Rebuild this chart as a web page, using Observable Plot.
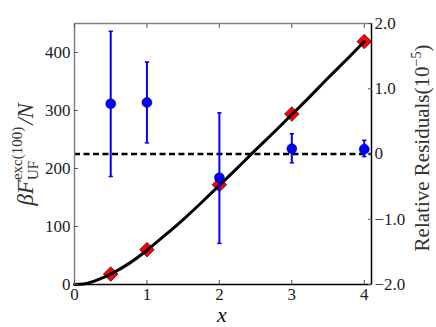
<!DOCTYPE html>
<html><head><meta charset="utf-8">
<script src="https://cdn.jsdelivr.net/npm/d3@7"></script>
<script src="https://cdn.jsdelivr.net/npm/@observablehq/plot@0.6"></script>
<style>body{margin:0;background:#fff}</style>
</head><body><div id="chart"></div>
<script>
const xs = [0.5, 1, 2, 3, 4];
const energy = [18, 60, 172, 294, 419];
const resid = [0.77, 0.79, -0.365, 0.08, 0.074];
const residLo = [-0.345, 0.17, -1.37, -0.135, -0.04];
const residHi = [1.88, 1.41, 0.63, 0.31, 0.21];
const curveX = [0, 0.125, 0.25, 0.375, 0.5, 0.75, 1, 1.25, 1.5, 1.75, 2, 2.25, 2.5, 2.75, 3, 3.25, 3.5, 3.75, 4];
const curveY = [0, 1, 5, 11, 18, 36, 59, 85, 112, 141, 171, 201, 232, 262, 293, 324, 356, 387, 419];
const leftTicks = [0, 100, 200, 300, 400];
const rightTicks = [-2, -1, 0, 1, 2];
const rightTickLabels = ["\u22122.0", "\u22121.0", "0", "1.0", "2.0"];
const xTicks = [0, 1, 2, 3, 4];
const xMax = 4.1, yMax = 450;
const FONT = "'Liberation Serif', 'Times New Roman', 'DejaVu Serif', serif";

const toLeft = d3.scaleLinear([-2, 2], [0, yMax]);
const pts = xs.map((x, i) => ({x, e: energy[i], r: toLeft(resid[i]), lo: toLeft(residLo[i]), hi: toLeft(residHi[i])}));
const curve = curveX.map((x, i) => ({x, y: curveY[i]}));
const rt = rightTicks.map((r, i) => ({v: toLeft(r), label: rightTickLabels[i]}));

const plot = Plot.plot({
  width: 436, height: 327,
  marginLeft: 74, marginRight: 65, marginTop: 23, marginBottom: 43,
  style: {fontSize: "16px", color: "#222", background: "#fff", fontFamily: FONT},
  x: {domain: [0, xMax]},
  y: {domain: [0, yMax]},
  marks: [
    Plot.ruleY([0], {y: d => toLeft(d), stroke: "#000", strokeWidth: 2.5, strokeDasharray: "6,3.5"}),
    Plot.dot(pts, {x: "x", y: "e", symbol: "diamond2", r: 6.6, fill: "#ff0000", stroke: "#000", strokeWidth: 0.6}),
    Plot.line(curve, {x: "x", y: "y", stroke: "#000", strokeWidth: 3, curve: "natural"}),
    Plot.ruleX(pts, {x: "x", y1: "lo", y2: "hi", stroke: "#0000ff", strokeWidth: 2}),
    Plot.link(pts, {x1: d => d.x - 0.03, x2: d => d.x + 0.03, y1: "hi", y2: "hi", stroke: "#0000ff", strokeWidth: 1.5}),
    Plot.link(pts, {x1: d => d.x - 0.03, x2: d => d.x + 0.03, y1: "lo", y2: "lo", stroke: "#0000ff", strokeWidth: 1.5}),
    Plot.dot(pts, {x: "x", y: "r", r: 5, fill: "#0000ff", stroke: "#000040", strokeWidth: 0.5}),
    // frame
    Plot.ruleX([0], {stroke: "#808080", strokeWidth: 1.5}),
    Plot.ruleY([yMax], {stroke: "#808080", strokeWidth: 1.5}),
    Plot.ruleY([0], {stroke: "#000", strokeWidth: 1.5}),
    Plot.ruleX([xMax], {stroke: "#000", strokeWidth: 1.5}),
    // left axis
    Plot.axisY(leftTicks, {anchor: "left", tickSize: 0, tickPadding: 4, label: null, fill: "#222", fontSize: 17}),
    Plot.axisY(leftTicks, {anchor: "left", tickSize: 4, dx: 4, tickFormat: () => "", label: null, stroke: "#555"}),
    // bottom / top axis
    Plot.axisX(xTicks, {anchor: "bottom", tickSize: 0, tickPadding: 3, label: null, fill: "#222", fontSize: 17}),
    Plot.axisX(xTicks, {anchor: "bottom", tickSize: 4, dy: -4, tickFormat: () => "", label: null, stroke: "#555"}),
    Plot.axisX(xTicks, {anchor: "top", tickSize: 4, dy: 4, tickFormat: () => "", label: null, stroke: "#555"}),
    // right axis
    Plot.axisY(rt.map(d => d.v), {anchor: "right", tickSize: 0, tickPadding: 3, label: null, fill: "#222", fontSize: 17, tickFormat: v => rt.find(d => Math.abs(d.v - v) < 1e-6).label}),
    Plot.axisY(rt.map(d => d.v), {anchor: "right", tickSize: 4, dx: -4, tickFormat: () => "", label: null, stroke: "#555"})
  ]
});
document.getElementById("chart").appendChild(plot);

const svg = d3.select(plot);
// x label
svg.append("text").attr("x", 222).attr("y", 322).attr("text-anchor", "middle")
  .attr("font-style", "italic").attr("font-size", 22).attr("fill", "#111").text("x");

// left y label
const ly = svg.append("text").attr("transform", "translate(33,153) rotate(-90)")
  .attr("font-size", 23).attr("fill", "#333").attr("text-anchor", "start");
ly.append("tspan").attr("font-style", "italic").text("\u03B2F");
const sub = ly.append("tspan").attr("font-size", 15).attr("dy", 5).text("UF");
const subW = sub.node().getComputedTextLength();
ly.append("tspan").attr("font-size", 15).attr("dx", -subW).attr("dy", -16).text("exc(100)");
ly.append("tspan").attr("font-style", "italic").attr("dy", 11).attr("dx", 2).text("/N");

// right y label
const ry = svg.append("text").attr("transform", "translate(429,148) rotate(-90)")
  .attr("font-size", 21).attr("fill", "#333").attr("text-anchor", "middle");
ry.append("tspan").text("Relative Residuals(10");
ry.append("tspan").attr("font-size", 14).attr("dy", -8).text("\u22125");
ry.append("tspan").attr("dy", 8).text(")");

svg.selectAll("text").attr("font-family", FONT).style("font-family", FONT);
const bb = ly.node().getBBox();
ly.attr("transform", `translate(33,${153 + bb.width / 2}) rotate(-90)`);
</script>
</body></html>
